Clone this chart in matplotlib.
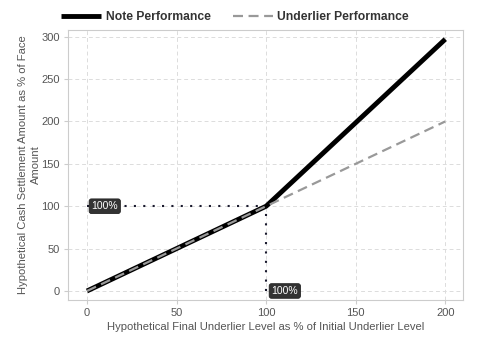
import matplotlib

matplotlib.use("Agg")
import matplotlib.pyplot as plt

plt.rcParams["font.family"] = ["Liberation Sans", "DejaVu Sans"]

# --- data ---
underlier_level = [0, 100, 200]
note_payoff = [0, 100, 297]
underlier_payoff = [0, 100, 200]
x_ticks = [0, 50, 100, 150, 200]
y_ticks = [0, 50, 100, 150, 200, 250, 300]
ref_level = 100

grid_c = "#dcdcdc"
text_c = "#555555"

fig = plt.figure(figsize=(4.8, 3.6), dpi=100, facecolor="white")
ax = fig.add_axes([0.142, 0.167, 0.823, 0.75])

ax.plot(underlier_level, note_payoff, color="black", linewidth=3.5,
        label="Note Performance", zorder=3, solid_capstyle="butt")
ax.plot(underlier_level, underlier_payoff, color="#999999", linewidth=1.6,
        linestyle=(0, (4.5, 2.5)), label="Underlier Performance", zorder=4)

# reference dotted lines
ax.plot([0, ref_level], [ref_level, ref_level], color="#1a1a2e", linewidth=1.5,
        linestyle=(0, (1, 3.5)), zorder=2)
ax.plot([ref_level, ref_level], [0, ref_level], color="#1a1a2e", linewidth=1.5,
        linestyle=(0, (1, 3.5)), zorder=2)

box = dict(boxstyle="round,pad=0.22", facecolor="#333333", edgecolor="#222222", linewidth=0.6)
ax.text(2.5, ref_level, "100%", color="white", fontsize=7.5, va="center", ha="left",
        bbox=box, zorder=5)
ax.text(ref_level + 3, 0, "100%", color="white", fontsize=7.5, va="center", ha="left",
        bbox=box, zorder=5)

ax.set_xlim(-10.5, 210)
ax.set_ylim(-10.5, 308)
ax.set_xticks(x_ticks)
ax.set_yticks(y_ticks)
ax.grid(True, color=grid_c, linestyle=(0, (4, 3)), linewidth=0.7)
ax.set_axisbelow(True)
for s in ax.spines.values():
    s.set_color("#cccccc")
    s.set_linewidth(0.8)
ax.tick_params(axis="both", colors="#cccccc", labelcolor=text_c, labelsize=8, length=3, width=0.8, pad=3)

ax.set_xlabel("Hypothetical Final Underlier Level as % of Initial Underlier Level",
              fontsize=8.1, color=text_c, labelpad=2.5)
ax.set_ylabel("Hypothetical Cash Settlement Amount as % of Face\nAmount",
              fontsize=8.1, color=text_c, linespacing=1.35)
ax.yaxis.set_label_coords(-0.069, 0.5)

leg = fig.legend(loc="upper center", bbox_to_anchor=(0.49, 1.0), ncol=2, frameon=False,
                 prop={"weight": "bold", "size": 8.7}, handlelength=3.3, columnspacing=1.8,
                 handletextpad=0.4)
for t in leg.get_texts():
    t.set_color("#333333")

fig.savefig("out.png", dpi=100, facecolor="white")
